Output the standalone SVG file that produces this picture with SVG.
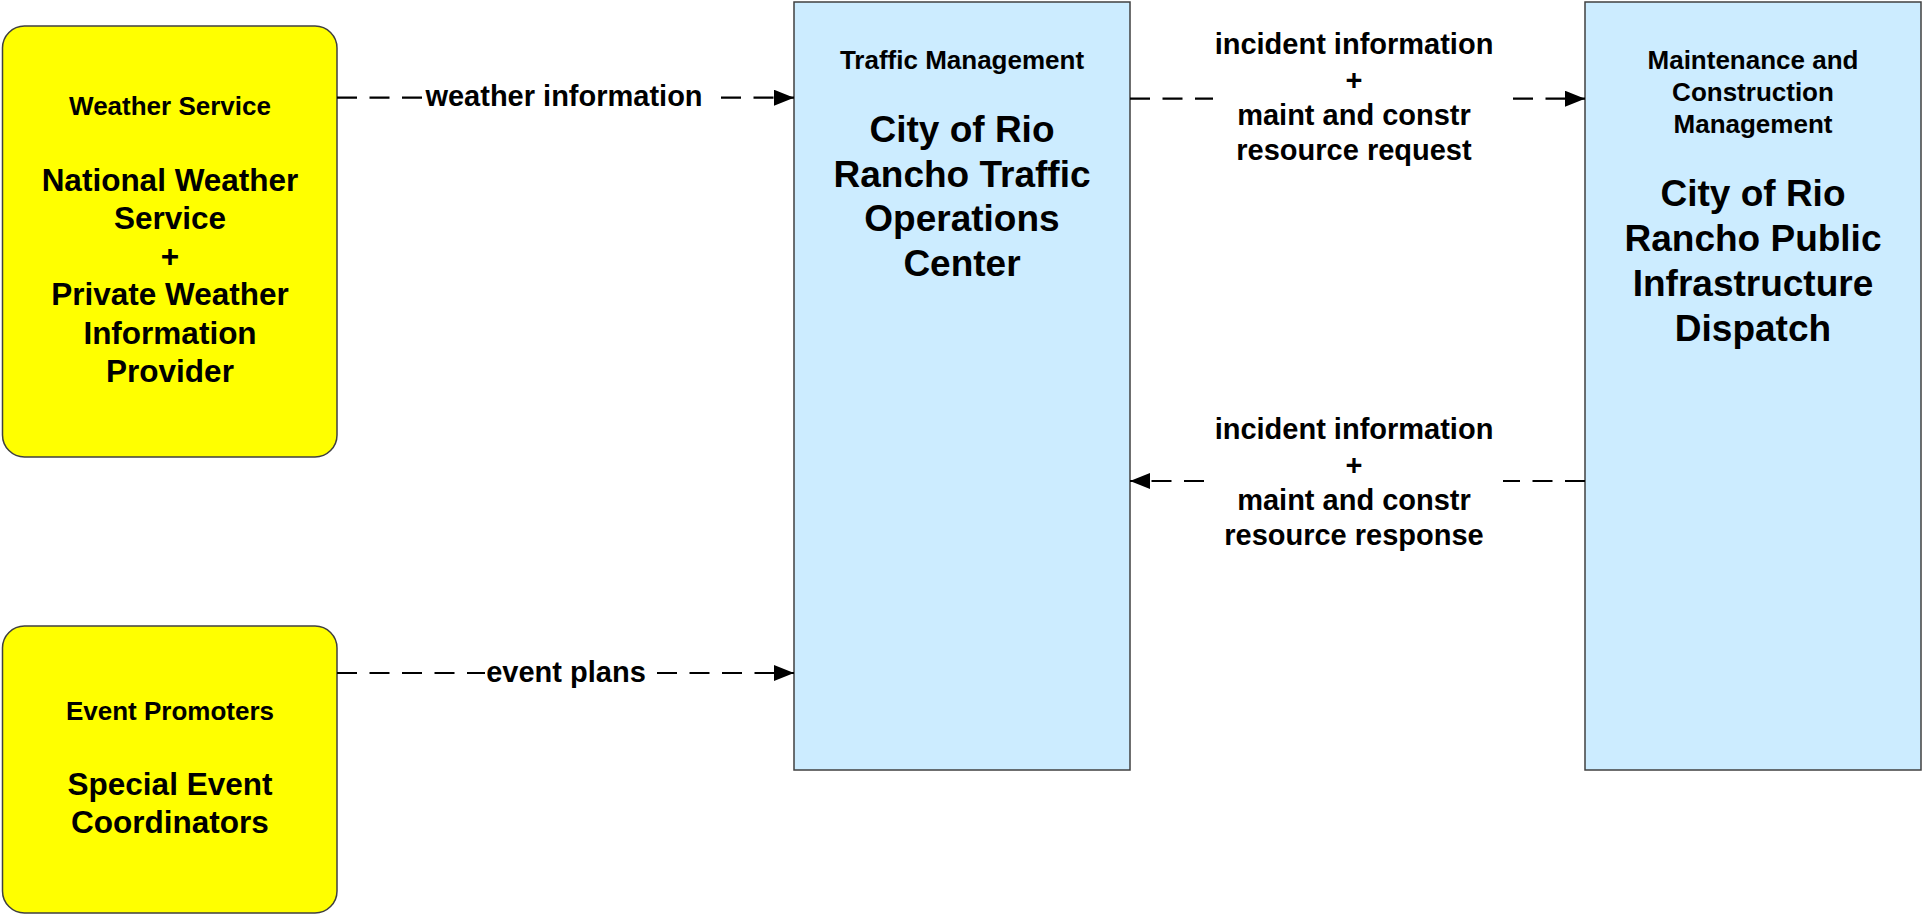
<svg xmlns="http://www.w3.org/2000/svg" width="1923" height="916" viewBox="0 0 1923 916">
<style>
text{font-family:"Liberation Sans",Arial,sans-serif;font-weight:bold;fill:#000;text-anchor:middle}
.ext{fill:#FFFF00;stroke:#404040;stroke-width:1.5}
.sub{fill:#CCECFF;stroke:#404040;stroke-width:1.5}
.cls{font-size:26px}
.nm{font-size:31.5px}
.big{font-size:37px}
.lbl{font-size:29px}
.flow{fill:none;stroke:#000;stroke-width:2.2;stroke-dasharray:20 12.5}
</style>
<defs>
<marker id="arr" markerUnits="userSpaceOnUse" markerWidth="20" markerHeight="16" viewBox="0 0 20 16" refX="20" refY="8" orient="auto">
<path d="M0,0 L20,8 L0,16 Z" fill="#000"/>
</marker>
</defs>

<g id="weather-service">
<rect class="ext" x="2.5" y="26" width="334.5" height="431" rx="22" ry="22"/>
<text class="cls" x="170" y="115">Weather Service</text>
<text class="nm" x="170" y="191">National Weather</text>
<text class="nm" x="170" y="229">Service</text>
<text class="nm" x="170" y="267">+</text>
<text class="nm" x="170" y="305">Private Weather</text>
<text class="nm" x="170" y="344">Information</text>
<text class="nm" x="170" y="382">Provider</text>
</g>

<g id="event-promoters">
<rect class="ext" x="2.5" y="626" width="334.5" height="287" rx="22" ry="22"/>
<text class="cls" x="170" y="720">Event Promoters</text>
<text class="nm" x="170" y="795">Special Event</text>
<text class="nm" x="170" y="833">Coordinators</text>
</g>

<g id="traffic-management">
<rect class="sub" x="794" y="2" width="336" height="768"/>
<text class="cls" x="962" y="69">Traffic Management</text>
<text class="big" x="962" y="142">City of Rio</text>
<text class="big" x="962" y="187">Rancho Traffic</text>
<text class="big" x="962" y="231">Operations</text>
<text class="big" x="962" y="276">Center</text>
</g>

<g id="maint-constr-management">
<rect class="sub" x="1585" y="2" width="336" height="768"/>
<text class="cls" x="1753" y="69">Maintenance and</text>
<text class="cls" x="1753" y="101">Construction</text>
<text class="cls" x="1753" y="133">Management</text>
<text class="big" x="1753" y="206">City of Rio</text>
<text class="big" x="1753" y="251">Rancho Public</text>
<text class="big" x="1753" y="296">Infrastructure</text>
<text class="big" x="1753" y="341">Dispatch</text>
</g>

<g id="connectors">
<path class="flow" d="M337,97.7 H422 M721,97.7 H794" marker-end="url(#arr)"/>
<text class="lbl" x="564" y="106">weather information</text>

<path class="flow" d="M337,673 H485 M657,673 H794" marker-end="url(#arr)"/>
<text class="lbl" x="566" y="682">event plans</text>

<path class="flow" d="M1130,98.7 H1213 M1513,98.7 H1585" marker-end="url(#arr)"/>
<text class="lbl" x="1354" y="54">incident information</text>
<text class="lbl" x="1354" y="90">+</text>
<text class="lbl" x="1354" y="125">maint and constr</text>
<text class="lbl" x="1354" y="160">resource request</text>

<path class="flow" d="M1585,481 H1503 M1204,481 H1130" marker-end="url(#arr)"/>
<text class="lbl" x="1354" y="439">incident information</text>
<text class="lbl" x="1354" y="475">+</text>
<text class="lbl" x="1354" y="510">maint and constr</text>
<text class="lbl" x="1354" y="545">resource response</text>
</g>
</svg>
